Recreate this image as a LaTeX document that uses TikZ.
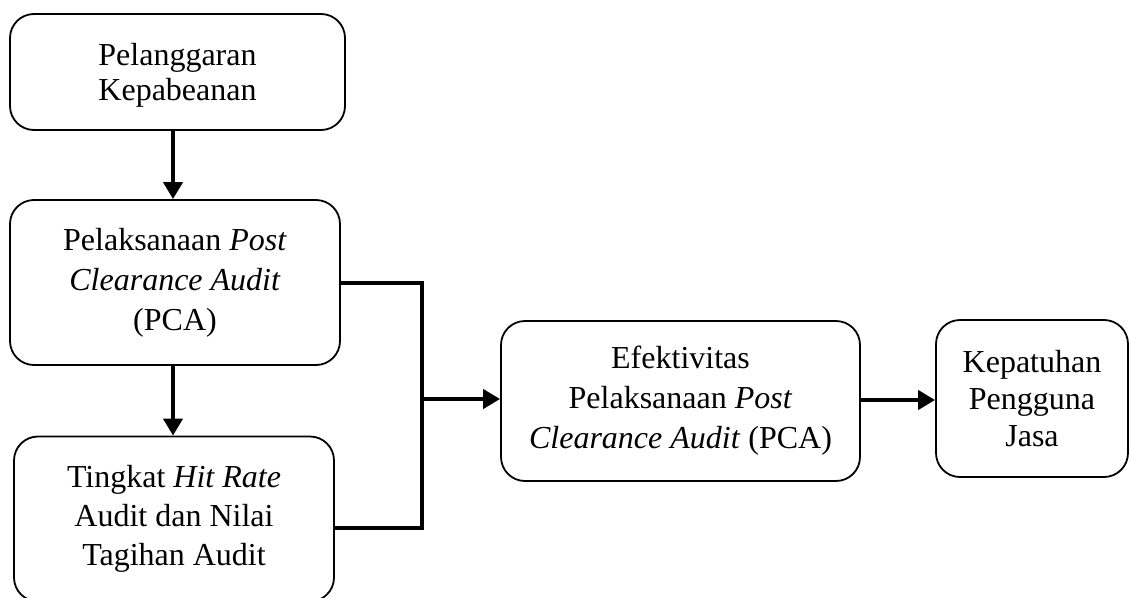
\documentclass[tikz,border=0pt]{standalone}
\usepackage{fontspec}
\setmainfont{Liberation Serif}
\usetikzlibrary{arrows.meta}
\begin{document}
\begin{tikzpicture}[x=1pt,y=-1pt,
  box/.style={draw,line width=1.8pt,rounded corners=24pt,align=center,inner sep=0pt},
  fs/.style={font=\fontsize{32}{#1}\selectfont},
  arr/.style={line width=4pt,-{Triangle[length=17pt,width=19pt]}},
  link/.style={line width=4pt}]
\useasboundingbox (0,0) rectangle (1129,597);
\clip (0,0) rectangle (1129,597);
\node[box,fs=35,minimum width=335pt,minimum height=116pt,text depth=0pt] (b1) at (177.5,72) {Pelanggaran\\Kepabeanan};
\node[box,fs=40,minimum width=330pt,minimum height=165pt] (b2) at (175,282.5) {Pelaksanaan \textit{Post}\\\textit{Clearance Audit}\\(PCA)};
\node[box,fs=39,minimum width=320pt,minimum height=165pt] (b3) at (174,519) {Tingkat \textit{Hit Rate}\\Audit dan Nilai\\Tagihan Audit};
\node[box,fs=40,minimum width=359pt,minimum height=160pt] (b4) at (680.5,401) {Efektivitas\\Pelaksanaan \textit{Post}\\\textit{Clearance Audit} (PCA)};
\node[box,fs=37,minimum width=192pt,minimum height=157pt] (b5) at (1032,398.5) {Kepatuhan\\Pengguna\\Jasa};
\coordinate (j) at (422,399);
\coordinate (b3r) at (334,528);
\draw[arr] (b1.south -| 173,0) -- (b2.north -| 173,0);
\draw[arr] (b2.south -| 173,0) -- (b3.north -| 173,0);
\draw[link] (b2.east) -| (j) |- (b3r);
\draw[arr] (j) -- (j -| b4.west);
\draw[arr] (b4.east |- 0,400) -- (b5.west |- 0,400);
\end{tikzpicture}
\end{document}
